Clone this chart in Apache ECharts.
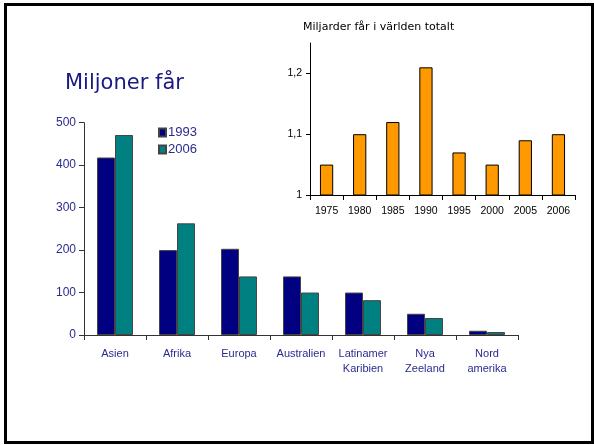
<!DOCTYPE html>
<html>
<head>
<meta charset="utf-8">
<script src="https://cdn.jsdelivr.net/npm/echarts@6/dist/echarts.min.js"></script>
<style>html,body{margin:0;padding:0;background:#fff}#c{width:594px;height:445px}</style>
</head>
<body>
<div id="c"></div>
<script>
const regions = ['Asien', 'Afrika', 'Europa', 'Australien', 'Latinamer\nKaribien', 'Nya\nZeeland', 'Nord\namerika'];
const sheep1993 = [418, 200, 203, 138, 100, 50, 10];
const sheep2006 = [471, 263, 138, 100, 82, 40, 7];
const mainTicks = [0, 100, 200, 300, 400, 500];
const years = ['1975', '1980', '1985', '1990', '1995', '2000', '2005', '2006'];
const worldTotal = [1.05, 1.10, 1.12, 1.21, 1.07, 1.05, 1.09, 1.10];
const insetTicks = [1, 1.1, 1.2];

const navyText = '#2b2b8f';
const sans = '"Liberation Sans", Arial, sans-serif';
const chart = echarts.init(document.getElementById('c'), null, {renderer: 'canvas'});
chart.setOption({
  animation: false,
  backgroundColor: '#fff',
  title: [
    {text: 'Miljoner får', left: 60, top: 68,
     textStyle: {fontFamily: '"Comic Sans MS", "DejaVu Sans"', fontSize: 21, fontWeight: 'normal', color: '#1a1a80'}},
    {text: 'Miljarder får i världen totalt', left: 298, top: 17,
     textStyle: {fontFamily: '"Comic Sans MS", "DejaVu Sans"', fontSize: 11, fontWeight: 'normal', color: '#000'}}
  ],
  graphic: [{type: 'rect', shape: {x: 5.5, y: 4.5, width: 587, height: 438},
             style: {fill: 'none', stroke: '#000', lineWidth: 3}, z: 100}],
  legend: {
    orient: 'vertical', left: 153, top: 121, itemWidth: 7, itemHeight: 8, itemGap: 4,
    icon: 'rect', data: ['1993', '2006'],
    textStyle: {fontFamily: sans, fontSize: 13, color: navyText, padding: [0, 0, 0, -3]}
  },
  grid: [
    {left: 84, right: 76, top: 122.7, bottom: 110},
    {left: 310, right: 19, top: 43, bottom: 250}
  ],
  xAxis: [
    {type: 'category', gridIndex: 0, data: regions,
     axisLine: {lineStyle: {color: '#333', width: 1}},
     axisTick: {show: true, length: 5, lineStyle: {color: '#333'}},
     axisLabel: {fontFamily: sans, fontSize: 11, color: navyText, margin: 11, lineHeight: 15, interval: 0}},
    {type: 'category', gridIndex: 1, data: years,
     axisLine: {lineStyle: {color: '#000', width: 1}},
     axisTick: {show: true, length: 5, lineStyle: {color: '#000'}},
     axisLabel: {fontFamily: sans, fontSize: 10.5, color: '#000', margin: 11, interval: 0}}
  ],
  yAxis: [
    {type: 'value', gridIndex: 0, min: 0, max: 500, interval: 100,
     axisLine: {show: true, lineStyle: {color: '#333'}},
     axisTick: {show: true, length: 5, lineStyle: {color: '#333'}},
     splitLine: {show: false},
     axisLabel: {fontFamily: sans, fontSize: 12, color: navyText, margin: 8,
                 customValues: mainTicks}},
    {type: 'value', gridIndex: 1, min: 1, max: 1.25, interval: 0.1,
     axisLine: {show: true, lineStyle: {color: '#000'}},
     axisTick: {show: true, length: 4, lineStyle: {color: '#000'}, customValues: insetTicks},
     splitLine: {show: false},
     axisLabel: {fontFamily: sans, fontSize: 10.5, color: '#000', margin: 8,
                 customValues: insetTicks,
                 formatter: v => String(Math.round(v * 10) / 10).replace('.', ',')}}
  ],
  series: [
    {name: '1993', type: 'bar', xAxisIndex: 0, yAxisIndex: 0, data: sheep1993,
     barGap: '0%', barCategoryGap: '42%',
     itemStyle: {color: '#000080', borderColor: '#444', borderWidth: 1}},
    {name: '2006', type: 'bar', xAxisIndex: 0, yAxisIndex: 0, data: sheep2006,
     barGap: '0%', barCategoryGap: '42%',
     itemStyle: {color: '#008080', borderColor: '#444', borderWidth: 1}},
    {name: 'Världen', type: 'bar', xAxisIndex: 1, yAxisIndex: 1, data: worldTotal,
     barCategoryGap: '60%',
     itemStyle: {color: '#ff9900', borderColor: '#000', borderWidth: 1}}
  ]
});
</script>
</body>
</html>
